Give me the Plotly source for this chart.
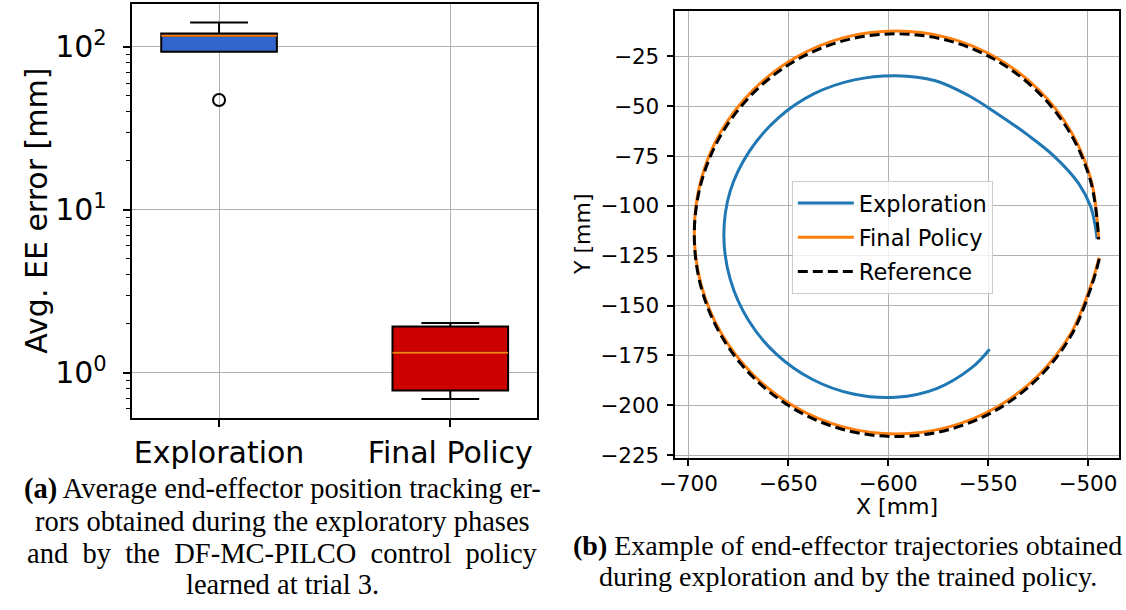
import plotly.graph_objects as go

# ---------------- Panel (a): tracking error box plots ----------------
box_labels = ["Exploration", "Final Policy"]
box_pos = [1, 2]
box_q1 = [93.3, 0.779]
box_median = [117.2, 1.326]
box_q3 = [121.0, 1.922]
box_low = [93.3, 0.690]
box_high = [141.0, 2.023]
box_fill = ["#3366cc", "#cc0000"]
outlier_pos = [1]
outlier_val = [47.2]
box_width = 0.5

# ---------------- Panel (b): end-effector trajectories ----------------
expl_x = [-549.2, -557.8, -575.4, -596.0, -617.4, -637.8, -655.8, -669.9, -679.0,
          -682.2, -679.0, -669.3, -654.9, -637.0, -616.9, -596.0, -576.3, -560.0,
          -545.0, -530.0, -517.0, -504.6, -498.7, -496.6, -495.4]
expl_y = [-171.9, -180.9, -191.5, -196.0, -194.4, -187.1, -174.5, -157.4, -136.9,
          -114.7, -92.5, -72.4, -55.8, -43.7, -36.8, -34.7, -37.2, -44.5,
          -54.0, -64.5, -75.0, -88.8, -100.2, -108.6, -116.6]

final_x = [-494.4, -498.4, -508.5, -524.6, -545.5, -569.9, -596.0, -622.1, -646.5,
           -667.4, -683.5, -693.6, -697.0, -693.7, -683.7, -667.6, -646.7, -622.2,
           -596.0, -569.8, -545.4, -524.4, -508.3, -498.3, -494.6]
final_y = [-126.0, -139.5, -163.9, -184.8, -200.9, -211.0, -214.4, -211.0, -200.9,
           -184.8, -163.9, -139.5, -113.4, -87.2, -62.8, -41.9, -25.8, -15.6,
           -12.3, -15.7, -25.9, -42.0, -63.0, -87.5, -116.8]

ref_x = [-494.3, -498.4, -508.5, -524.6, -545.5, -569.9, -596.0, -622.1, -646.5,
         -667.4, -683.5, -693.6, -697.0, -693.6, -683.5, -667.4, -646.5, -622.1,
         -596.0, -569.9, -545.5, -524.6, -508.5, -498.4, -494.6]
ref_y = [-126.6, -140.8, -165.2, -186.1, -202.2, -212.3, -215.7, -212.3, -202.2,
         -186.1, -165.2, -140.8, -114.7, -88.6, -64.2, -43.3, -27.2, -17.1,
         -13.7, -17.1, -27.2, -43.3, -64.2, -88.6, -116.8]

x_ticks_b = [-700, -650, -600, -550, -500]
y_ticks_b = [-225, -200, -175, -150, -125, -100, -75, -50, -25]

W, H = 1126, 610
SANS = "DejaVu Sans"
SERIF = "Liberation Serif, Times New Roman, serif"
GRID = "#b0b0b0"

fig = go.Figure()

for i in range(len(box_labels)):
    fig.add_trace(go.Box(
        x=[box_pos[i]], q1=[box_q1[i]], median=[box_median[i]], q3=[box_q3[i]],
        lowerfence=[box_low[i]], upperfence=[box_high[i]],
        width=box_width, whiskerwidth=0.5, boxpoints=False,
        fillcolor=box_fill[i], line=dict(color="black", width=2),
        showlegend=False, xaxis="x", yaxis="y",
    ))
    # orange median bar drawn over the box
    fig.add_trace(go.Scatter(
        x=[box_pos[i] - box_width / 2, box_pos[i] + box_width / 2],
        y=[box_median[i], box_median[i]], mode="lines",
        line=dict(color="#ff7f0e", width=2), showlegend=False,
        xaxis="x", yaxis="y",
    ))

fig.add_trace(go.Scatter(
    x=outlier_pos, y=outlier_val, mode="markers",
    marker=dict(symbol="circle-open", size=12, color="black", line=dict(width=2)),
    showlegend=False, xaxis="x", yaxis="y",
))

fig.add_trace(go.Scatter(
    x=expl_x, y=expl_y, mode="lines", name="Exploration", legendgroup="a",
    line=dict(color="#1f77b4", width=3, shape="spline", smoothing=1.0),
    xaxis="x2", yaxis="y2",
))
fig.add_trace(go.Scatter(
    x=final_x, y=final_y, mode="lines", name="Final Policy", legendgroup="b",
    line=dict(color="#ff7f0e", width=3, shape="spline", smoothing=1.0),
    xaxis="x2", yaxis="y2",
))
fig.add_trace(go.Scatter(
    x=ref_x, y=ref_y, mode="lines", name="Reference", legendgroup="c",
    line=dict(color="black", width=3, dash="10px,5px", shape="spline", smoothing=1.0),
    xaxis="x2", yaxis="y2",
))

minor_vals = [0.6, 0.7, 0.8, 0.9, 2, 3, 4, 5, 6, 7, 8, 9, 20, 30, 40, 50, 60, 70, 80, 90]

axis_common = dict(
    showline=True, mirror=True, linecolor="black", linewidth=1.8,
    showgrid=True, gridcolor=GRID, gridwidth=1.3, zeroline=False,
    ticks="outside", tickcolor="black", tickwidth=1.5,
)

fig.update_layout(
    width=W, height=H,
    margin=dict(l=0, r=0, t=0, b=0),
    paper_bgcolor="white", plot_bgcolor="white",
    xaxis=dict(
        domain=[117.3 / W, 529 / W], range=[0.622, 2.377],
        tickmode="array", tickvals=box_pos, ticktext=box_labels,
        ticklen=7, tickfont=dict(family=SANS, size=30, color="black"),
        anchor="y", **axis_common,
    ),
    yaxis=dict(
        domain=[(H - 425) / H, (H - 4) / H], type="log",
        range=[-0.2777, 2.2638],
        tickmode="array", tickvals=[1, 10, 100],
        ticktext=["10<sup>0</sup>", "10<sup>1</sup>", "10<sup>2</sup>"],
        ticklen=7, ticklabelstandoff=10,
        tickfont=dict(family=SANS, size=30, color="black"),
        minor=dict(tickmode="array", tickvals=minor_vals, ticks="outside",
                   ticklen=4, tickwidth=1.2, tickcolor="black", showgrid=False),
        anchor="x", **axis_common,
    ),
    xaxis2=dict(
        domain=[668 / W, 1119 / W], range=[-706.9, -484.4],
        tickmode="array", tickvals=x_ticks_b,
        ticklen=6, tickfont=dict(family=SANS, size=21.5, color="black"),
        anchor="y2", **axis_common,
    ),
    yaxis2=dict(
        domain=[(H - 465.3) / H, (H - 10.7) / H], range=[-226.3, -2.0],
        tickmode="array", tickvals=y_ticks_b,
        ticklen=6, ticklabelstandoff=3,
        tickfont=dict(family=SANS, size=21.5, color="black"),
        anchor="x2", **axis_common,
    ),
    legend=dict(
        x=787 / W, y=(H - 184) / H, xanchor="left", yanchor="top",
        bgcolor="rgba(255,255,255,0.8)", bordercolor="#cccccc", borderwidth=1,
        font=dict(family=SANS, size=22.5, color="black"),
        traceorder="grouped", tracegroupgap=2, itemwidth=56,
    ),
    showlegend=True,
)

annotations = [
    dict(text="Avg. EE error [mm]", x=21 / W, y=(H - 214.5) / H, textangle=-90,
         font=dict(family=SANS, size=30, color="black")),
    dict(text="Y [mm]", x=574 / W, y=(H - 238) / H, textangle=-90,
         font=dict(family=SANS, size=22, color="black")),
    dict(text="X [mm]", x=894 / W, y=(H - 515) / H,
         font=dict(family=SANS, size=22, color="black")),
]

caption_a = [
    "<b>(a)</b> Average end-effector position tracking er-",
    "rors obtained during the exploratory phases",
    "and  by  the  DF-MC-PILCO  control  policy",
    "learned at trial 3.",
]
caption_a_y = [497, 530, 563, 594]
caption_b = [
    "<b>(b)</b> Example of end-effector trajectories obtained",
    "during exploration and by the trained policy.",
]
caption_b_y = [555, 586]

for line, yy in zip(caption_a, caption_a_y):
    annotations.append(dict(text=line, x=270.5 / W, y=(H - yy) / H,
                            font=dict(family=SERIF, size=28.5, color="black")))
for line, yy in zip(caption_b, caption_b_y):
    annotations.append(dict(text=line, x=843.5 / W, y=(H - yy) / H,
                            font=dict(family=SERIF, size=28, color="black")))

for a in annotations:
    a.update(xref="paper", yref="paper", showarrow=False,
             xanchor="center", yanchor="middle")
fig.update_layout(annotations=annotations)

fig.write_html("out.html")
